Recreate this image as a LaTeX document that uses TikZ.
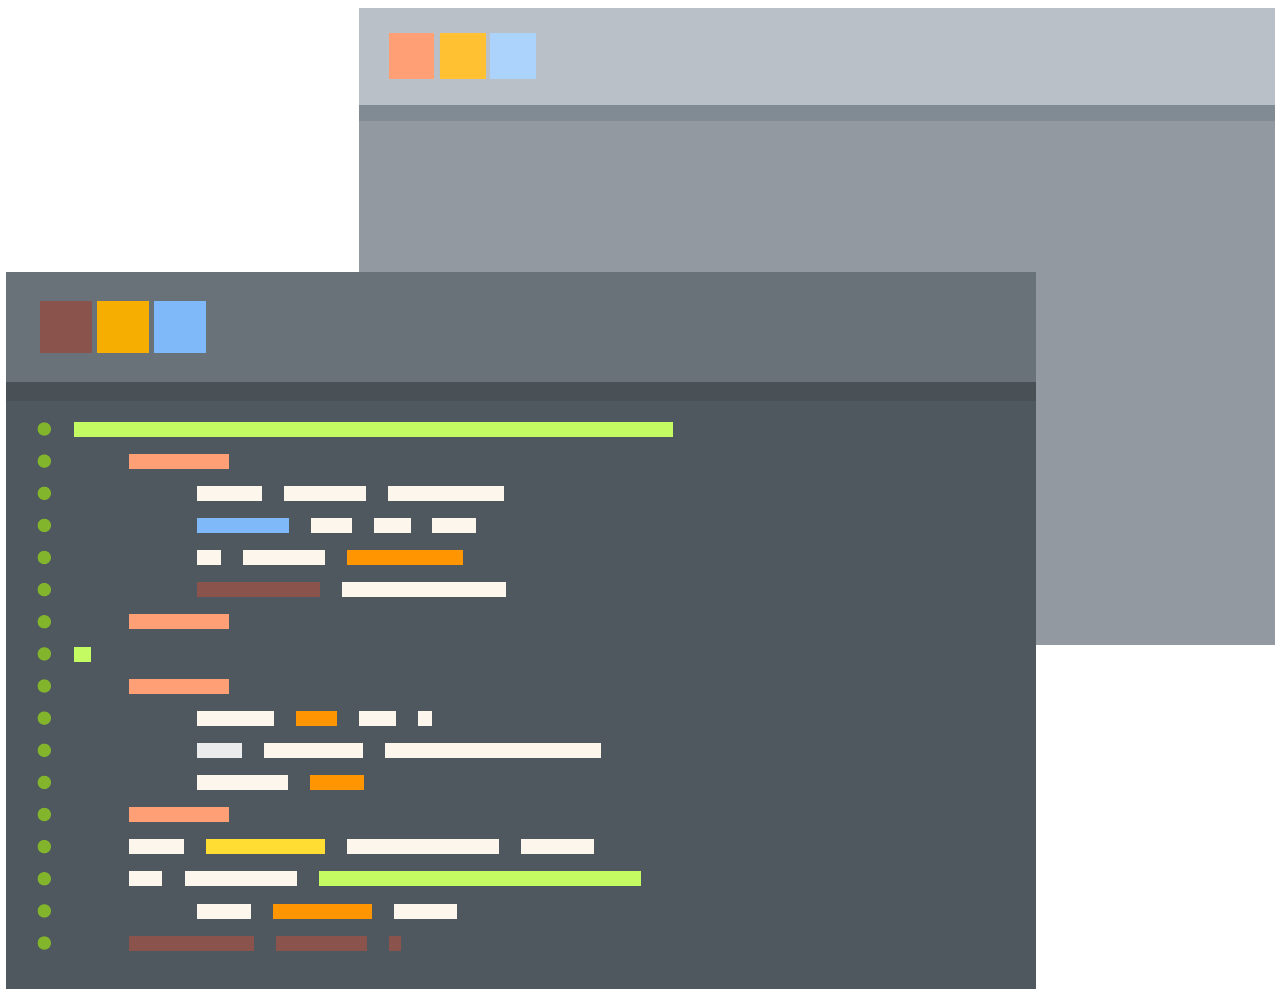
\documentclass[tikz,border=0pt]{standalone}
\definecolor{backtitle}{HTML}{B9C0C8}
\definecolor{backstrip}{HTML}{818B93}
\definecolor{backbody}{HTML}{9299A0}
\definecolor{fronttitle}{HTML}{697179}
\definecolor{frontstrip}{HTML}{495157}
\definecolor{frontbody}{HTML}{4F585E}
\definecolor{salmon}{HTML}{FF9F75}
\definecolor{amberlight}{HTML}{FFC032}
\definecolor{bluelight}{HTML}{ACD3FB}
\definecolor{brownred}{HTML}{8A544C}
\definecolor{amber}{HTML}{F6AF00}
\definecolor{bluemid}{HTML}{7FB9F9}
\definecolor{dotgreen}{HTML}{82B52B}
\definecolor{lime}{HTML}{C4FB62}
\definecolor{cream}{HTML}{FDF6EC}
\definecolor{orange}{HTML}{FF9500}
\definecolor{pale}{HTML}{E9EBEC}
\definecolor{yellow2}{HTML}{FFDD33}
\tikzset{x=1pt,y=-1pt}
\newcommand{\codebar}[4]{\fill[#4] (#1-0.4,#3-7.4) rectangle (#2-0.2,#3+7.6);}
\begin{document}
\begin{tikzpicture}
\useasboundingbox (0,0) rectangle (1280,994);
% back window
\fill[backbody] (358.5,121) rectangle (1275,645);
\fill[backtitle] (358.5,8) rectangle (1275,105.3);
\fill[backstrip] (358.5,105.3) rectangle (1275,121);
\fill[salmon] (388.6,33.2) rectangle (434.4,79.3);
\fill[amberlight] (439.5,33.2) rectangle (485.5,79.3);
\fill[bluelight] (490,33.2) rectangle (536,79.3);
% front window
\fill[frontbody] (6,401) rectangle (1036,989);
\fill[fronttitle] (6,272) rectangle (1036,382);
\fill[frontstrip] (6,382) rectangle (1036,401);
\fill[brownred] (39.8,301) rectangle (91.8,353);
\fill[amber] (97,301) rectangle (149,353);
\fill[bluemid] (154,301) rectangle (206,353);
% gutter dots
\foreach \yy in {429,461.1,493.3,525.4,557.5,589.6,621.75,653.9,686,718.1,750.3,782.4,814.5,846.6,878.75,910.9,943}
  \fill[dotgreen] (44.3,\yy) circle (6.7);
% code bars
\codebar{74.5}{673.5}{429}{lime}
\codebar{129}{229}{461.1}{salmon}
\codebar{197.5}{262}{493.3}{cream}
\codebar{284}{366}{493.3}{cream}
\codebar{388}{504}{493.3}{cream}
\codebar{197.5}{289}{525.4}{bluemid}
\codebar{311}{352}{525.4}{cream}
\codebar{374}{411}{525.4}{cream}
\codebar{432.5}{476.5}{525.4}{cream}
\codebar{197.5}{221}{557.5}{cream}
\codebar{243}{325}{557.5}{cream}
\codebar{347}{463}{557.5}{orange}
\codebar{197.5}{320}{589.6}{brownred}
\codebar{342}{506}{589.6}{cream}
\codebar{129}{229}{621.75}{salmon}
\codebar{74.5}{91}{653.9}{lime}
\codebar{129}{229}{686}{salmon}
\codebar{197.5}{274}{718.1}{cream}
\codebar{296}{337}{718.1}{orange}
\codebar{359}{396}{718.1}{cream}
\codebar{418}{432}{718.1}{cream}
\codebar{197.5}{242}{750.3}{pale}
\codebar{264}{363}{750.3}{cream}
\codebar{385}{601}{750.3}{cream}
\codebar{197.5}{288}{782.4}{cream}
\codebar{310}{364.5}{782.4}{orange}
\codebar{129}{229}{814.5}{salmon}
\codebar{129}{184.5}{846.6}{cream}
\codebar{206.5}{325}{846.6}{yellow2}
\codebar{347}{499}{846.6}{cream}
\codebar{521}{594.5}{846.6}{cream}
\codebar{129}{162.5}{878.75}{cream}
\codebar{185}{297}{878.75}{cream}
\codebar{319.5}{641.5}{878.75}{lime}
\codebar{197.5}{251.5}{910.9}{cream}
\codebar{273.5}{372.5}{910.9}{orange}
\codebar{394.5}{457}{910.9}{cream}
\codebar{129}{254}{943}{brownred}
\codebar{276}{367}{943}{brownred}
\codebar{389}{401}{943}{brownred}
\end{tikzpicture}
\end{document}
